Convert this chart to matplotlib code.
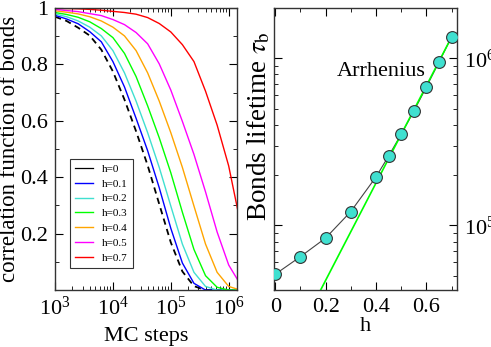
import matplotlib
matplotlib.use('Agg')
import matplotlib.pyplot as plt
from matplotlib.ticker import LogLocator, FixedLocator
import numpy as np

plt.rcParams['font.family'] = ['Liberation Serif', 'DejaVu Serif']
plt.rcParams['mathtext.fontset'] = 'stix'

# left panel: correlation function vs MC steps (log10 of steps)
log_steps = [3.0, 3.2, 3.4, 3.6, 3.8, 4.0, 4.2, 4.4, 4.6, 4.8, 5.0, 5.2, 5.4, 5.6, 5.8, 6.0, 6.2]
corr_h0 = [0.969, 0.954, 0.930, 0.902, 0.852, 0.775, 0.675, 0.563, 0.442, 0.305, 0.169, 0.066, 0.014, 0.0, 0.0, 0.0, 0.0]
corr_h01 = [0.974, 0.961, 0.944, 0.916, 0.880, 0.810, 0.720, 0.609, 0.494, 0.363, 0.219, 0.096, 0.024, 0.0, 0.0, 0.0, 0.0]
corr_h02 = [0.979, 0.969, 0.954, 0.932, 0.901, 0.849, 0.770, 0.670, 0.558, 0.435, 0.298, 0.163, 0.063, 0.013, 0.0, 0.0, 0.0]
corr_h03 = [0.984, 0.977, 0.967, 0.951, 0.927, 0.895, 0.839, 0.757, 0.653, 0.540, 0.416, 0.276, 0.144, 0.051, 0.010, 0.0, 0.0]
corr_h04 = [0.990, 0.985, 0.979, 0.969, 0.954, 0.932, 0.901, 0.849, 0.770, 0.670, 0.558, 0.435, 0.298, 0.163, 0.063, 0.013, 0.0]
corr_h05 = [0.995, 0.991, 0.987, 0.980, 0.973, 0.959, 0.941, 0.913, 0.873, 0.802, 0.709, 0.598, 0.481, 0.348, 0.206, 0.089, 0.021]
corr_h07 = [0.999, 0.998, 0.997, 0.995, 0.992, 0.988, 0.984, 0.978, 0.966, 0.945, 0.915, 0.870, 0.810, 0.705, 0.585, 0.440, 0.240]

labels = ['h=0', 'h=0.1', 'h=0.2', 'h=0.3', 'h=0.4', 'h=0.5', 'h=0.7']
colors = ['black', 'blue', '#40e0d0', '#00ff00', '#ffa500', '#ff00ff', '#ff0000']

# right panel: bond lifetime vs h
h_vals = [0.0, 0.1, 0.2, 0.3, 0.4, 0.45, 0.5, 0.55, 0.6, 0.65, 0.7]
tau_b = [5.1e4, 6.5e4, 8.4e4, 1.21e5, 1.95e5, 2.6e5, 3.51e5, 4.82e5, 6.73e5, 9.5e5, 1.34e6]
arrh_h = [0.18, 0.70]
arrh_tau = [4.1e4, 1.34e6]

fig = plt.figure(figsize=(4.91, 3.47), dpi=100)
ax1 = fig.add_axes([0.112, 0.164, 0.371, 0.813])
ax2 = fig.add_axes([0.558, 0.164, 0.373, 0.813])

steps = 10 ** np.array(log_steps)
curves = [corr_h0, corr_h01, corr_h02, corr_h03, corr_h04, corr_h05, corr_h07]
for i, (c, lab, col) in enumerate(zip(curves, labels, colors)):
    if i == 0:
        ax1.plot(steps, c, color=col, lw=1.3, ls=(0, (3.5, 2.5)))
        ax1.plot([], [], color=col, lw=0.9, label=lab)
    else:
        ax1.plot(steps, c, color=col, lw=1.0, label=lab)

ax1.set_xscale('log')
ax1.set_xlim(0.999e3, 1.4e6)
ax1.xaxis.set_major_locator(FixedLocator([1e3, 1e4, 1e5, 1e6]))
ax1.xaxis.set_minor_locator(LogLocator(base=10, subs=np.arange(2, 10), numticks=30))
ax1.set_ylim(0, 1.0)
ax1.set_yticks([0.2, 0.4, 0.6, 0.8, 1.0])
ax1.set_yticklabels(['0.2', '0.4', '0.6', '0.8', '1'])
ax1.set_yticks(np.arange(0.1, 1.0, 0.2), minor=True)
ax1.set_xlabel('MC steps', fontsize=16, labelpad=5)
ax1.set_ylabel('correlation function of bonds', fontsize=16.5, labelpad=0)
ax1.tick_params(which='both', direction='in', top=True, right=True, labelsize=16, pad=5)
ax1.tick_params(which='major', length=6)
ax1.tick_params(which='minor', length=3)
leg = ax1.legend(loc='lower left', bbox_to_anchor=(0.082, 0.078), fontsize=8,
                 frameon=True, fancybox=False, handlelength=1.6, borderaxespad=0,
                 labelspacing=0.45, handletextpad=0.8, borderpad=0.5)
leg.get_frame().set_edgecolor('black')
leg.get_frame().set_linewidth(0.8)

ax2.plot(h_vals, tau_b, color='#444444', lw=0.8, zorder=2)
ax2.plot(arrh_h, arrh_tau, color='#00ff00', lw=1.2, zorder=3)
ax2.plot(h_vals, tau_b, 'o', ms=8.5, mfc='#40e0d0', mec='#333333', mew=0.8, zorder=4)
ax2.text(0.42, 8.3e5, 'Arrhenius', fontsize=16, ha='center', va='center')

ax2.set_yscale('log')
ax2.set_xlim(-0.005, 0.722)
ax2.set_ylim(4.1e4, 2.0e6)
ax2.set_xticks([0, 0.2, 0.4, 0.6])
ax2.set_xticklabels(['0', '0.2', '0.4', '0.6'])
ax2.set_xticks([0.1, 0.3, 0.5, 0.7], minor=True)
ax2.set_xlabel('h', fontsize=16, labelpad=0)
ax2.set_ylabel(r'Bonds lifetime $\tau_\mathrm{b}$', fontsize=19.5, labelpad=1)
ax2.yaxis.label.set_y(0.58)
ax2.tick_params(which='both', direction='in', top=True, left=True, right=True,
                labelleft=False, labelright=True, labelsize=16, pad=5)
ax2.tick_params(axis='x', which='both', pad=6)
ax2.tick_params(which='major', length=6)
ax2.tick_params(which='minor', length=3)

for ax in (ax1, ax2):
    for s in ax.spines.values():
        s.set_linewidth(1.0)
        s.set_color('#333333')

fig.savefig('out.png', dpi=100)
